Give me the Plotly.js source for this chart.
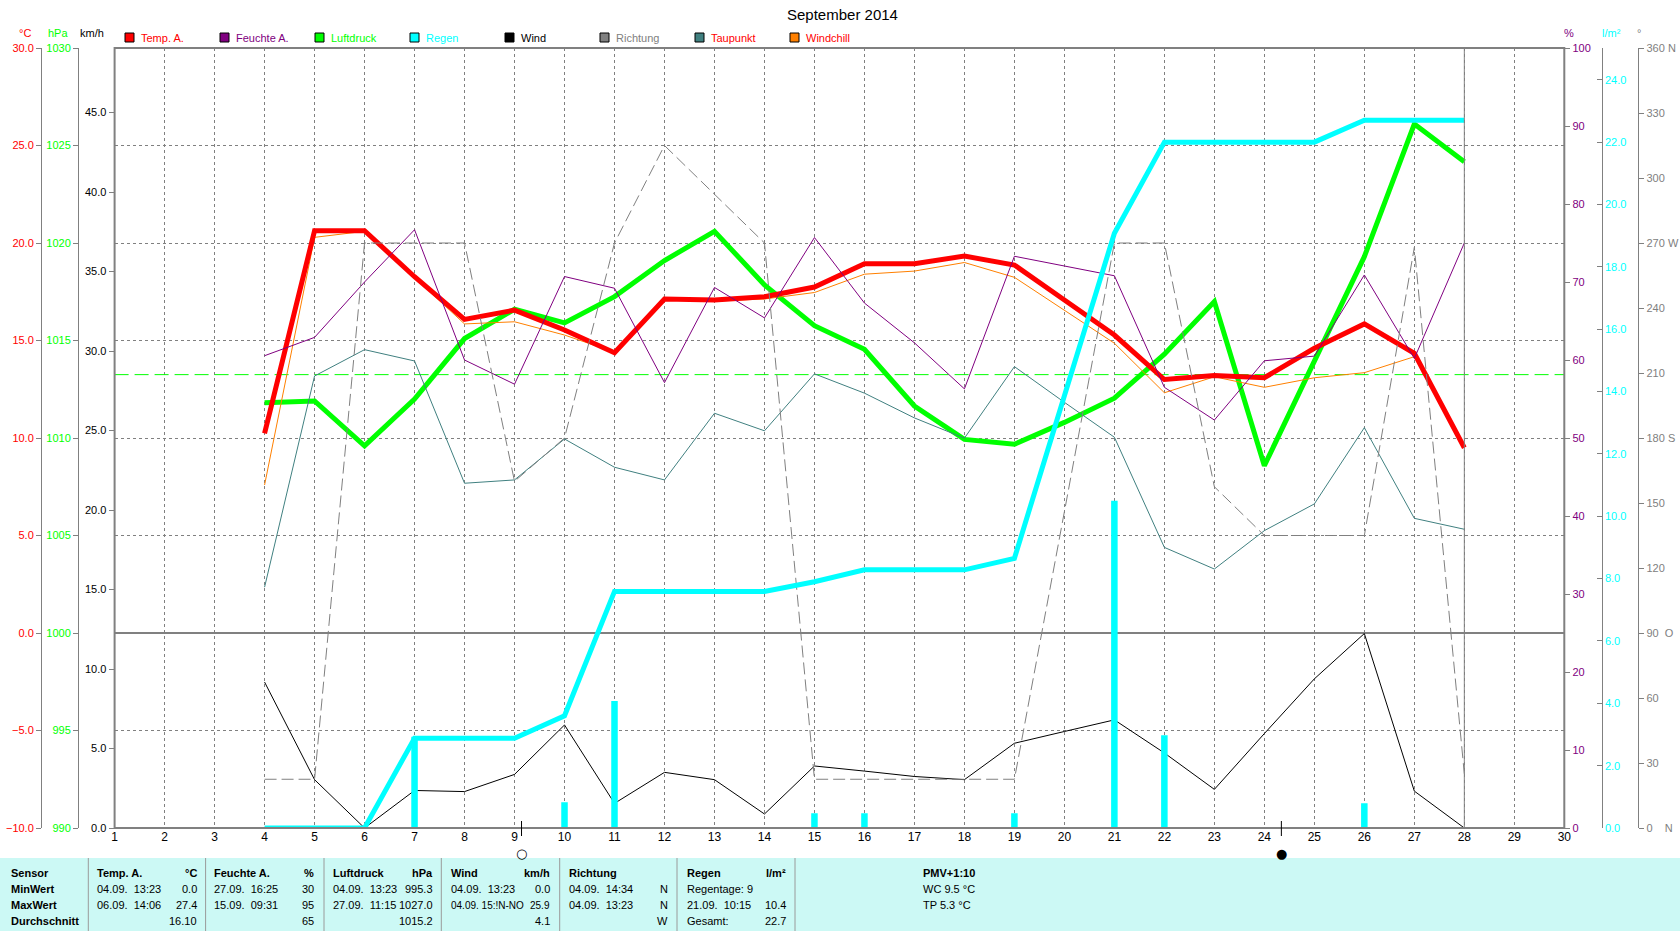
<!DOCTYPE html>
<html><head><meta charset="utf-8">
<script src="https://cdn.plot.ly/plotly-3.0.1.min.js"></script>
<style>html,body{margin:0;padding:0;background:#fff}#chart{width:1680px;height:931px}</style>
</head><body><div id="chart"></div>
<script>
// ---------- data ----------
const days = [4,5,6,7,8,9,10,11,12,13,14,15,16,17,18,19,20,21,22,23,24,25,26,27,28];
const tempA = [10.24,20.63,20.63,18.27,16.08,16.56,15.54,14.37,17.13,17.08,17.24,17.74,18.94,18.94,19.33,18.87,17.08,15.28,13.0,13.2,13.09,14.6,15.85,14.34,9.5];
const dewPoint = [2.35,13.18,14.53,13.95,7.68,7.85,9.95,8.5,7.85,11.27,10.37,13.29,12.3,11.03,9.99,13.66,11.83,10.04,4.39,3.28,5.25,6.62,10.53,5.88,5.32];
const windChillDays = [4,5,6,7,8,9,10,11,12,13,14,15,16,17,18,19,20,21,22,23,24,25,26,27];
const windChill = [7.59,20.29,20.6,18.2,15.85,15.96,15.28,14.4,17.08,17.02,17.13,17.46,18.4,18.56,19.0,18.24,16.56,14.86,12.32,13.14,12.6,13.09,13.35,14.17];
const pressure = [1011.81,1011.9,1009.6,1012.0,1015.1,1016.6,1015.9,1017.25,1019.1,1020.6,1017.85,1015.76,1014.55,1011.64,1009.93,1009.68,1010.8,1012.04,1014.3,1017.0,1008.58,1014.0,1019.3,1026.1,1024.17];
const humidity = [60.55,62.9,70.0,76.7,60.0,56.9,70.7,69.2,57.1,69.3,65.4,75.7,67.3,62.2,56.3,73.3,72.05,70.8,56.5,52.3,59.9,60.5,70.9,60.2,75.0];
const rainTotal = [0,0,0,2.88,2.88,2.88,3.6,7.59,7.59,7.59,7.59,7.9,8.28,8.28,8.28,8.65,13.87,19.08,22.0,22.0,22.0,22.0,22.7,22.7,22.7];
const rainMax = [null,null,null,2.9,0,0,0.8,4.05,0,0,0,0.45,0.45,0,0,0.45,null,10.47,2.95,0,0,0,0.77,0,0];
const wind = [9.18,3.04,0,2.36,2.29,3.37,6.48,1.55,3.5,3.04,0.88,3.9,3.58,3.24,3.04,5.33,6.07,6.8,4.72,2.43,5.94,9.38,12.23,2.32,0];
const direction = [22.5,22.5,270,270,270,160,180,270,315,292.5,270,22.5,22.5,22.5,22.5,22.5,146,270,270,157.5,135,135,135,268,25];
const normalPressure = 1013.25;
const currentDay = 28;
const moonDays = [9.14, 24.34];
const moonSymbols = ['○', '●'];

const dayTicks = [1,2,3,4,5,6,7,8,9,10,11,12,13,14,15,16,17,18,19,20,21,22,23,24,25,26,27,28,29,30];
const tempTicks = [-10,-5,0,5,10,15,20,25,30];
const pressTicks = [990,995,1000,1005,1010,1015,1020,1025,1030];
const windTicks = [0,5,10,15,20,25,30,35,40,45];
const humTicks = [0,10,20,30,40,50,60,70,80,90,100];
const rainTicks = [0,2,4,6,8,10,12,14,16,18,20,22,24];
const dirTicks = [0,30,60,90,120,150,180,210,240,270,300,330,360];
const dirTickText = ['0\u00a0\u00a0\u00a0\u00a0N','30','60','90\u00a0\u00a0O','120','150','180\u00a0S','210','240','270\u00a0W','300','330','360\u00a0N'];

const legendNames = ['Temp. A.','Feuchte A.','Luftdruck','Regen','Wind','Richtung','Taupunkt','Windchill'];
const legendBox = ['#ff0000','#800080','#00ff00','#00ffff','#000000','#808080','#408080','#ff8000'];
const legendText = ['#ff0000','#800080','#00ff00','#00ffff','#000000','#808080','#ff0000','#ff0000'];

const tableHeaders = ['Sensor','Temp. A.','Feuchte A.','Luftdruck','Wind','Richtung','Regen'];
const tableUnits = ['','°C','%','hPa','km/h','','l/m²'];
const rowLabels = ['MinWert','MaxWert','Durchschnitt'];
const minWhen = ['04.09.  13:23','27.09.  16:25','04.09.  13:23','04.09.  13:23','04.09.  14:34','Regentage: 9'];
const minVal  = ['0.0','30','995.3','0.0','N',''];
const maxWhen = ['06.09.  14:06','15.09.  09:31','27.09.  11:15','04.09. 15:!N-NO','04.09.  13:23','21.09.  10:15'];
const maxVal  = ['27.4','95','1027.0','25.9','N','10.4'];
const avgWhen = ['','','','','','Gesamt:'];
const avgVal  = ['16.10','65','1015.2','4.1','W','22.7'];
const extraLines = ['<b>PMV+1:10</b>','WC 9.5 °C','TP 5.3 °C'];

// ---------- geometry ----------
const W = 1680, H = 931;
const X0 = 114.6, X1 = 1564.3, Y0 = 48, Y1 = 828;
const px = x => x / W;
const py = y => 1 - y / H;
const FONT = 'Liberation Sans, Arial, sans-serif';
const GRAY = '#808080';

// ---------- traces ----------
const traces = [
  {x: days, y: pressure, yaxis: 'y', type: 'scatter', mode: 'lines', line: {color: '#00ff00', width: 5}},
  {x: [1, 30], y: [normalPressure, normalPressure], yaxis: 'y', type: 'scatter', mode: 'lines', line: {color: '#00ff00', width: 1, dash: '14px,6px'}},
  {x: days, y: dewPoint, yaxis: 'y2', type: 'scatter', mode: 'lines', line: {color: '#408080', width: 1}},
  {x: windChillDays, y: windChill, yaxis: 'y2', type: 'scatter', mode: 'lines', line: {color: '#ff8000', width: 1}},
  {x: days, y: tempA, yaxis: 'y2', type: 'scatter', mode: 'lines', line: {color: '#ff0000', width: 5}},
  {x: days, y: wind, yaxis: 'y3', type: 'scatter', mode: 'lines', line: {color: '#000000', width: 1}},
  {x: days, y: humidity, yaxis: 'y4', type: 'scatter', mode: 'lines', line: {color: '#800080', width: 1}},
  {x: days, y: direction, yaxis: 'y5', type: 'scatter', mode: 'lines', line: {color: GRAY, width: 1, dash: '12px,5px'}},
  {x: days, y: rainMax, yaxis: 'y6', type: 'bar', width: 0.1, marker: {color: '#00ffff', line: {color: '#00ffff', width: 1.5}}},
  {x: days, y: rainTotal, yaxis: 'y6', type: 'scatter', mode: 'lines', line: {color: '#00ffff', width: 5}}
];
traces.forEach(t => { t.hoverinfo = 'skip'; t.showlegend = false; t.cliponaxis = false; });

const yDom = [py(Y1), py(Y0)];
const baseY = {domain: yDom, ticks: 'outside', ticklen: 5, tickcolor: GRAY, tickwidth: 1,
  showgrid: false, zeroline: false, fixedrange: true, automargin: false};

const layout = {
  width: W, height: H,
  margin: {l: 0, r: 0, t: 0, b: 0, autoexpand: false},
  paper_bgcolor: '#ffffff', plot_bgcolor: '#ffffff',
  showlegend: false, hovermode: false,
  font: {family: FONT, size: 11, color: '#000'},
  xaxis: {domain: [px(X0), px(X1)], range: [1, 30], tickvals: dayTicks, ticks: '',
    showgrid: true, gridcolor: GRAY, gridwidth: 1, griddash: '3px,3px', zeroline: false,
    showline: false, tickfont: {size: 12, color: '#000'}, fixedrange: true, automargin: false},
  yaxis: Object.assign({}, baseY, {anchor: 'free', position: px(78), side: 'left', range: [990, 1030],
    tickvals: pressTicks, tickformat: 'd', tickfont: {color: '#00ff00', size: 11},
    showline: true, linecolor: GRAY, linewidth: 1,
    showgrid: true, gridcolor: GRAY, gridwidth: 1, griddash: '3px,3px'}),
  yaxis2: Object.assign({}, baseY, {overlaying: 'y', anchor: 'free', position: px(41), side: 'left', range: [-10, 30],
    tickvals: tempTicks, tickformat: '.1f', tickfont: {color: '#ff0000', size: 11},
    showline: true, linecolor: GRAY, linewidth: 1}),
  yaxis3: Object.assign({}, baseY, {overlaying: 'y', anchor: 'x', side: 'left', range: [0, 49.06],
    tickvals: windTicks, tickformat: '.1f', tickfont: {color: '#000000', size: 11}, showline: false}),
  yaxis4: Object.assign({}, baseY, {overlaying: 'y', anchor: 'x', side: 'right', range: [0, 100],
    tickvals: humTicks, tickformat: 'd', tickfont: {color: '#800080', size: 11}, showline: false}),
  yaxis5: Object.assign({}, baseY, {overlaying: 'y', anchor: 'free', position: px(1638.3), side: 'right', range: [0, 360],
    tickvals: dirTicks, ticktext: dirTickText, tickfont: {color: GRAY, size: 11},
    showline: true, linecolor: GRAY, linewidth: 1}),
  yaxis6: Object.assign({}, baseY, {overlaying: 'y', anchor: 'free', position: px(1601.7), side: 'right', range: [0, 25.02],
    tickvals: rainTicks, tickformat: '.1f', tickfont: {color: '#00ffff', size: 11}, ticks: 'inside',
    showline: true, linecolor: GRAY, linewidth: 1}),
  shapes: [], annotations: []
};

const S = layout.shapes, A = layout.annotations;

// zero-degree line, current day marker, frame
S.push({type: 'line', xref: 'x', yref: 'y2', x0: 1, x1: 30, y0: 0, y1: 0, line: {color: GRAY, width: 2}, layer: 'below'});
S.push({type: 'line', xref: 'x', yref: 'paper', x0: currentDay, x1: currentDay, y0: yDom[0], y1: yDom[1], line: {color: GRAY, width: 1}, layer: 'above'});
S.push({type: 'rect', xref: 'paper', yref: 'paper', x0: px(X0), x1: px(X1), y0: yDom[0], y1: yDom[1], line: {color: GRAY, width: 2}, layer: 'above'});

// title and unit labels
A.push({xref: 'paper', yref: 'paper', x: px(842), y: py(15), text: 'September 2014', showarrow: false, font: {size: 15, color: '#000'}, xanchor: 'center', yanchor: 'middle'});
const unitLabels = [['°C', 25, '#ff0000'], ['hPa', 58, '#00ff00'], ['km/h', 92, '#000000'], ['%', 1569, '#800080'], ['l/m²', 1611, '#00ffff'], ['°', 1639, GRAY]];
unitLabels.forEach(u => A.push({xref: 'paper', yref: 'paper', x: px(u[1]), y: py(33), text: u[0], showarrow: false, font: {size: 11, color: u[2]}, xanchor: 'center', yanchor: 'middle'}));

// legend
legendNames.forEach((n, i) => {
  const bx = 125 + i * 95.0;
  S.push({type: 'rect', xref: 'paper', yref: 'paper', x0: px(bx), x1: px(bx + 9), y0: py(42), y1: py(33), fillcolor: legendBox[i], line: {color: '#000', width: 1}});
  A.push({xref: 'paper', yref: 'paper', x: px(bx + 14), y: py(37.5), text: n, showarrow: false, font: {size: 11, color: legendText[i]}, xanchor: 'left', yanchor: 'middle'});
});

// moon phases
moonDays.forEach((d, i) => {
  S.push({type: 'line', xref: 'x', yref: 'paper', x0: d, x1: d, y0: py(821), y1: py(836), line: {color: '#000', width: 1}});
  A.push({xref: 'x', yref: 'paper', x: d, y: py(853), text: moonSymbols[i], showarrow: false, font: {size: 13, color: '#000', family: 'DejaVu Sans'}, xanchor: 'center', yanchor: 'middle'});
});

// table
S.push({type: 'rect', xref: 'paper', yref: 'paper', x0: 0, x1: 1, y0: 0, y1: py(858), fillcolor: '#ccf9f5', line: {width: 0}, layer: 'below'});
const seps = [88.3, 205.6, 324, 441.3, 559.7, 677, 795];
seps.forEach(s => S.push({type: 'line', xref: 'paper', yref: 'paper', x0: px(s), x1: px(s), y0: 0, y1: py(858), line: {color: '#9a9a9a', width: 1}}));
const colL = [8.7, 95.4, 212.2, 330.6, 449, 566.8, 684.7];
const colR = [0, 199, 316.3, 434.7, 552, 670, 788.3];
const rowY = [872.7, 889.3, 905, 920.7];
function txt(x, y, t, anchor, size) {
  A.push({xref: 'paper', yref: 'paper', x: px(x), y: py(y), text: t, showarrow: false, font: {size: size || 11, color: '#000'}, xanchor: anchor, yanchor: 'middle'});
}
tableHeaders.forEach((h, i) => {
  txt(colL[i], rowY[0], '<b>' + h + '</b>', 'left');
  if (tableUnits[i]) txt(colR[i], rowY[0], '<b>' + tableUnits[i] + '</b>', 'right');
});
rowLabels.forEach((r, j) => txt(colL[0], rowY[j + 1], '<b>' + r + '</b>', 'left'));
[[minWhen, minVal], [maxWhen, maxVal], [avgWhen, avgVal]].forEach((pair, j) => {
  pair[0].forEach((w, i) => {
    const long = w.length > 14;
    if (w) txt(colL[i + 1], rowY[j + 1], w, 'left', long ? 10 : 11);
    if (pair[1][i]) txt(colR[i + 1], rowY[j + 1], pair[1][i], 'right', long ? 10 : 11);
  });
});
extraLines.forEach((e, j) => txt(920.6, rowY[j], e, 'left'));

Plotly.newPlot('chart', traces, layout, {displayModeBar: false, staticPlot: true});
</script>
</body></html>
